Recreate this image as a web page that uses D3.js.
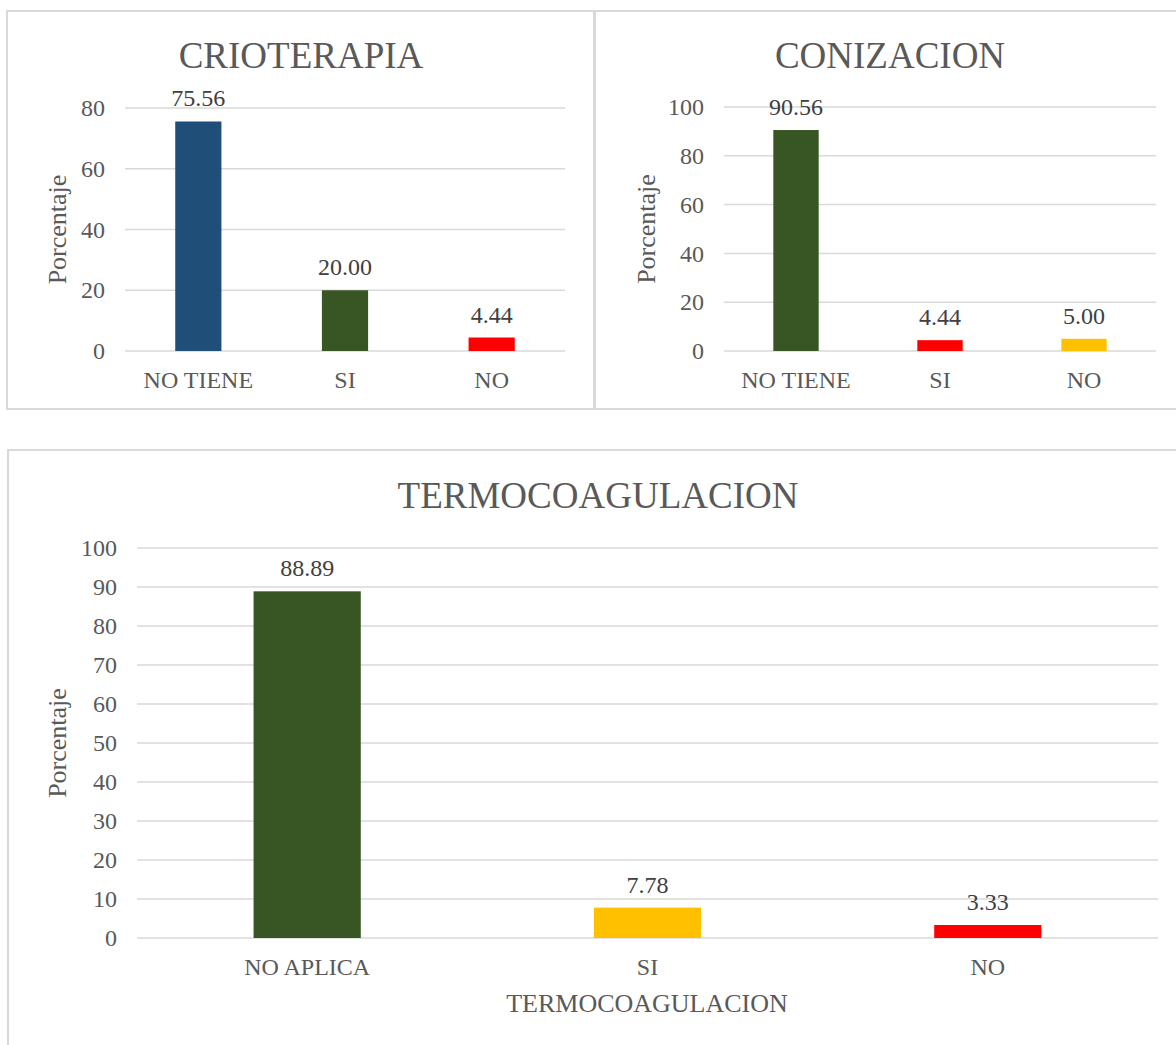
<!DOCTYPE html>
<html>
<head>
<meta charset="utf-8">
<script src="https://cdn.jsdelivr.net/npm/d3@7"></script>
<style>
  html, body { margin: 0; padding: 0; background: #ffffff; }
  svg { display: block; }
  svg text { font-family: 'Liberation Serif', 'Times New Roman', serif; }
</style>
</head>
<body>
<svg id="chart" width="1176" height="1045"></svg>
<script>
// ---- DATA ----
const crioCategories = ["NO TIENE", "SI", "NO"];
const crioValues = [75.56, 20.00, 4.44];
const crioColors = ["#1F4E79", "#375623", "#FF0000"];
const crioTicks = [0, 20, 40, 60, 80];

const coniCategories = ["NO TIENE", "SI", "NO"];
const coniValues = [90.56, 4.44, 5.00];
const coniColors = ["#375623", "#FF0000", "#FFC000"];
const coniTicks = [0, 20, 40, 60, 80, 100];

const termoCategories = ["NO APLICA", "SI", "NO"];
const termoValues = [88.89, 7.78, 3.33];
const termoColors = ["#375623", "#FFC000", "#FF0000"];
const termoTicks = [0, 10, 20, 30, 40, 50, 60, 70, 80, 90, 100];

const svg = d3.select("#chart");
const FONT = "'Liberation Serif', 'Times New Roman', serif";

function drawChart(o) {
  const g = svg.append("g");
  g.append("rect")
    .attr("x", o.panel[0]).attr("y", o.panel[1])
    .attr("width", o.panel[2]).attr("height", o.panel[3])
    .attr("fill", "none").attr("stroke", "#D9D9D9").attr("stroke-width", 2);

  const x = d3.scaleBand().domain(o.categories)
    .range([o.plot.left, o.plot.right])
    .paddingInner(0.685).paddingOuter(0.3425);
  const y = d3.scaleLinear().domain([0, o.ymax]).range([o.plot.bottom, o.plot.top]);

  g.selectAll(".grid").data(o.ticks).enter().append("line")
    .attr("x1", o.plot.left).attr("x2", o.plot.right)
    .attr("y1", d => y(d)).attr("y2", d => y(d))
    .attr("stroke", "#D9D9D9").attr("stroke-width", 1.5);

  const yAxis = d3.axisLeft(y).tickValues(o.ticks).tickSize(0).tickPadding(20).tickFormat(d3.format("d"));
  const ya = g.append("g").attr("transform", `translate(${o.plot.left},0)`).call(yAxis);
  ya.attr("font-family", null);
  ya.select(".domain").remove();
  ya.selectAll("text").style("font-family", FONT).style("font-size", "24px").attr("fill", "#595959");

  const xAxis = d3.axisBottom(x).tickSize(0).tickPadding(20);
  const xa = g.append("g").attr("transform", `translate(0,${o.plot.bottom})`).call(xAxis);
  xa.attr("font-family", null);
  xa.select(".domain").remove();
  xa.selectAll("text").style("font-family", FONT).style("font-size", "24px").attr("fill", "#595959");

  g.selectAll(".bar").data(o.values).enter().append("rect")
    .attr("x", (d, i) => x(o.categories[i]))
    .attr("y", d => y(d))
    .attr("width", x.bandwidth())
    .attr("height", d => y(0) - y(d))
    .attr("fill", (d, i) => o.colors[i]);

  g.selectAll(".lbl").data(o.values).enter().append("text")
    .attr("x", (d, i) => x(o.categories[i]) + x.bandwidth() / 2)
    .attr("y", d => y(d) - 15)
    .attr("text-anchor", "middle")
    .style("font-family", FONT).style("font-size", "24px").attr("fill", "#404040")
    .text(d => d.toFixed(2));

  g.append("text")
    .attr("x", o.titlePos[0]).attr("y", o.titlePos[1])
    .attr("text-anchor", "middle")
    .style("font-family", FONT).style("font-size", "37px").attr("fill", "#595959")
    .text(o.title);

  g.append("text")
    .attr("transform", `translate(${o.yTitleX},${(o.plot.top + o.plot.bottom) / 2}) rotate(-90)`)
    .attr("text-anchor", "middle")
    .style("font-family", FONT).style("font-size", "26px").attr("fill", "#595959")
    .text("Porcentaje");

  if (o.xTitle) {
    g.append("text")
      .attr("x", o.xTitlePos[0]).attr("y", o.xTitlePos[1])
      .attr("text-anchor", "middle")
      .style("font-family", FONT).style("font-size", "26px").attr("fill", "#595959")
      .text(o.xTitle);
  }
}

drawChart({
  panel: [7, 11, 587, 398],
  plot: { left: 125, right: 565, top: 108, bottom: 351 },
  categories: crioCategories, values: crioValues, colors: crioColors,
  ticks: crioTicks, ymax: 80,
  title: "CRIOTERAPIA", titlePos: [301, 68], yTitleX: 66
});

drawChart({
  panel: [595, 11, 600, 398],
  plot: { left: 724, right: 1156, top: 107, bottom: 351 },
  categories: coniCategories, values: coniValues, colors: coniColors,
  ticks: coniTicks, ymax: 100,
  title: "CONIZACION", titlePos: [890, 68], yTitleX: 655
});

drawChart({
  panel: [8, 450, 1200, 620],
  plot: { left: 137, right: 1158, top: 548, bottom: 938 },
  categories: termoCategories, values: termoValues, colors: termoColors,
  ticks: termoTicks, ymax: 100,
  title: "TERMOCOAGULACION", titlePos: [598, 508], yTitleX: 66,
  xTitle: "TERMOCOAGULACION", xTitlePos: [647, 1012]
});
</script>
</body>
</html>
